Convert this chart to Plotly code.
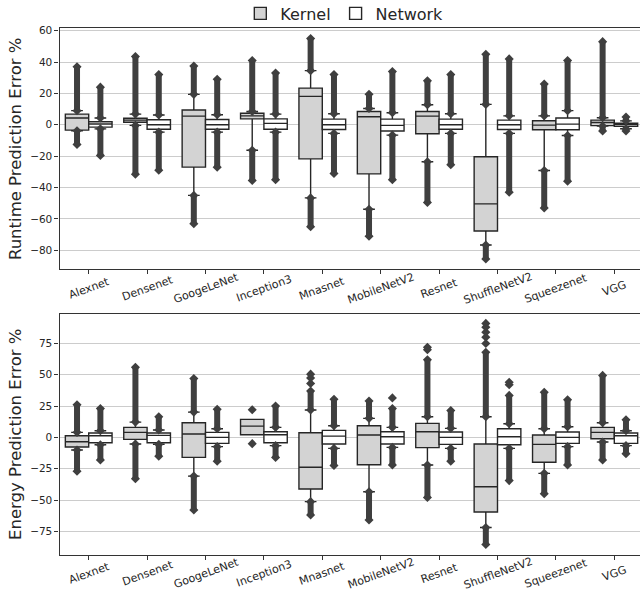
import plotly.graph_objects as go

models = ["Alexnet", "Densenet", "GoogeLeNet", "Inception3", "Mnasnet",
          "MobileNetV2", "Resnet", "ShuffleNetV2", "Squeezenet", "VGG"]

# ---- Runtime prediction error % ----
rt_k_q1  = [-3.4, 1.6, -27.0, 3.8, -21.7, -31.3, -5.7, -67.7, -3.2, -0.5]
rt_k_med = [4.3, 3.0, 5.5, 5.7, 18.1, 5.1, 5.5, -50.4, -0.2, 1.5]
rt_k_q3  = [6.8, 4.2, 9.4, 7.4, 23.4, 8.5, 8.5, -20.4, 2.6, 3.0]
rt_k_lo  = [-3.8, -0.4, -45.0, -16.2, -46.6, -53.8, -23.6, -76.6, -29.1, -0.8]
rt_k_hi  = [9.0, 6.8, 19.4, 8.5, 34.5, 10.4, 12.8, 13.0, 5.7, 4.5]
rt_k_min = [-12.5, -31.5, -63.0, -35.5, -65.0, -71.0, -49.5, -85.5, -53.0, -4.0]
rt_k_max = [37.0, 43.5, 37.5, 41.0, 55.0, 19.5, 28.0, 45.0, 26.0, 53.0]

rt_n_q1  = [-1.5, -2.8, -2.8, -2.8, -3.0, -4.0, -2.8, -3.0, -3.2, -1.0]
rt_n_med = [0.5, 0.0, 0.0, 0.9, 0.0, -0.4, 0.0, 0.0, 0.4, 0.2]
rt_n_q3  = [1.9, 3.2, 3.4, 3.8, 3.6, 3.6, 3.6, 3.0, 4.3, 1.0]
rt_n_lo  = [-2.6, -4.7, -4.7, -4.7, -5.5, -6.6, -5.5, -5.5, -6.8, -2.5]
rt_n_hi  = [4.3, 6.2, 6.4, 6.8, 7.0, 7.7, 7.0, 5.7, 9.0, 2.5]
rt_n_min = [-19.5, -29.0, -27.0, -35.0, -31.0, -35.0, -25.5, -43.0, -36.0, -4.0]
rt_n_max = [24.0, 32.0, 29.0, 33.0, 32.0, 34.0, 32.0, 42.0, 41.0, 5.0]

# ---- Energy prediction error % ----
en_k_q1  = [-7.7, -1.6, -16.0, 2.1, -41.2, -21.8, -8.2, -59.6, -19.9, -1.1]
en_k_med = [-3.5, 4.0, 2.7, 9.0, -23.9, 1.9, 4.5, -39.4, -5.6, 4.0]
en_k_q3  = [1.3, 8.0, 11.7, 14.4, 3.7, 9.3, 11.2, -5.3, 1.9, 8.0]
en_k_lo  = [-10.1, -5.3, -30.9, 2.1, -51.3, -43.4, -22.1, -72.0, -28.7, -3.7]
en_k_hi  = [4.0, 12.2, 20.2, 14.4, 21.8, 15.2, 16.5, 16.5, 6.9, 11.7]
en_k_min = [-27.0, -33.0, -58.0, None, -62.0, -66.0, -48.0, -85.5, -45.0, -18.0]
en_k_max = [26.0, 56.0, 47.0, None, 37.0, 29.0, 62.0, 68.0, 36.0, 49.5]

en_n_q1  = [-4.3, -4.3, -4.8, -4.3, -5.3, -5.3, -5.6, -5.9, -4.8, -4.8]
en_n_med = [1.3, 1.6, 0.0, 2.1, 1.0, 0.5, 0.0, 0.5, 0.0, 1.3]
en_n_q3  = [3.5, 3.5, 4.0, 4.5, 5.6, 4.5, 4.3, 6.9, 4.3, 3.5]
en_n_lo  = [-5.9, -5.6, -7.4, -6.6, -8.8, -8.0, -8.8, -8.8, -7.4, -6.6]
en_n_hi  = [5.3, 5.9, 6.9, 8.0, 9.3, 8.0, 7.2, 10.9, 8.5, 5.3]
en_n_min = [-18.0, -15.0, -19.0, -16.0, -22.5, -22.0, -19.0, -34.5, -22.0, -13.0]
en_n_max = [23.0, 16.5, 22.5, 25.0, 30.5, 23.0, 21.5, 33.5, 30.0, 14.0]

# isolated outliers: (model index, value)
en_k_iso = [(3, 22.0), (3, -5.0), (4, 43.0), (4, 47.5), (4, 50.5),
            (6, 70.0), (6, 72.0), (7, 75.0), (7, 80.0), (7, 84.0),
            (7, 88.0), (7, 91.0)]
en_n_iso = [(5, 31.5), (7, 42.0), (7, 44.0)]
rt_k_iso = []
rt_n_iso = []

series = ["Kernel", "Network"]
fills = ["#d3d3d3", "#ffffff"]
offsets = [-0.2, 0.2]
OUT = "#3f3f3f"

panels = [
    dict(row="1", k=(rt_k_q1, rt_k_med, rt_k_q3, rt_k_lo, rt_k_hi, rt_k_min, rt_k_max, rt_k_iso),
         n=(rt_n_q1, rt_n_med, rt_n_q3, rt_n_lo, rt_n_hi, rt_n_min, rt_n_max, rt_n_iso)),
    dict(row="2", k=(en_k_q1, en_k_med, en_k_q3, en_k_lo, en_k_hi, en_k_min, en_k_max, en_k_iso),
         n=(en_n_q1, en_n_med, en_n_q3, en_n_lo, en_n_hi, en_n_min, en_n_max, en_n_iso)),
]

fig = go.Figure()

# outlier columns first (drawn underneath boxes)
for p in panels:
    ax = "" if p["row"] == "1" else "2"
    for si, key in enumerate(["k", "n"]):
        q1, med, q3, lo, hi, mn, mx, iso = p[key]
        xs, ys = [], []
        for i in range(len(models)):
            x = i + offsets[si]
            if mx[i] is not None:
                xs += [x, x, None]
                ys += [hi[i], mx[i], None]
            if mn[i] is not None:
                xs += [x, x, None]
                ys += [lo[i], mn[i], None]
        fig.add_trace(go.Scatter(
            x=xs, y=ys, mode="lines+markers", xaxis="x" + ax, yaxis="y" + ax,
            line=dict(color=OUT, width=6), marker=dict(symbol="diamond", size=7, color=OUT),
            showlegend=False, hoverinfo="skip"))
        if iso:
            fig.add_trace(go.Scatter(
                x=[m + offsets[si] for m, v in iso], y=[v for m, v in iso],
                mode="markers", xaxis="x" + ax, yaxis="y" + ax,
                marker=dict(symbol="diamond", size=7, color=OUT),
                showlegend=False, hoverinfo="skip"))

for p in panels:
    ax = "" if p["row"] == "1" else "2"
    for si, key in enumerate(["k", "n"]):
        q1, med, q3, lo, hi, mn, mx, iso = p[key]
        fig.add_trace(go.Box(
            x=[i + offsets[si] for i in range(len(models))],
            q1=q1, median=med, q3=q3, lowerfence=lo, upperfence=hi,
            width=0.4, whiskerwidth=0.5, boxpoints=False,
            fillcolor=fills[si], line=dict(color="#262626", width=1.4),
            name=series[si], legendgroup=series[si],
            showlegend=(p["row"] == "1"), xaxis="x" + ax, yaxis="y" + ax,
            hoverinfo="skip"))

W, H = 640, 594
x0 = 59.5 / W
top_dom = [1 - 269.3 / H, 1 - 28.3 / H]
bot_dom = [1 - 555 / H, 1 - 313.5 / H]

axis_common = dict(
    showline=True, linecolor="#333333", linewidth=1.2, ticks="outside",
    ticklen=4, tickcolor="#333333", tickfont=dict(family="DejaVu Sans", size=10.5, color="#262626"),
    zeroline=False,
)

fig.update_layout(
    width=W, height=H, margin=dict(l=0, r=0, t=0, b=0, autoexpand=False),
    paper_bgcolor="white", plot_bgcolor="white",
    boxmode="overlay",
    font=dict(family="DejaVu Sans", color="#262626"),
    xaxis=dict(domain=[x0, 1], anchor="y", range=[-0.5, 9.44],
               tickvals=list(range(len(models))), showticklabels=False,
               showgrid=False, mirror=True, **axis_common),
    yaxis=dict(domain=top_dom, anchor="x", range=[-92.1, 61.5],
               tickvals=[60, 40, 20, 0, -20, -40, -60, -80],
               showgrid=True, gridcolor="#cccccc", gridwidth=1,
               title=dict(text="Runtime Prediction Error %", font=dict(size=16.5, color="#262626"),
                          standoff=4),
               **axis_common),
    xaxis2=dict(domain=[x0, 1], anchor="y2", range=[-0.5, 9.44],
                tickvals=list(range(len(models))), showticklabels=False,
                showgrid=False, mirror=True, **axis_common),
    yaxis2=dict(domain=bot_dom, anchor="x2", range=[-93.9, 98.9],
                tickvals=[75, 50, 25, 0, -25, -50, -75],
                showgrid=True, gridcolor="#cccccc", gridwidth=1,
                title=dict(text="Energy Prediction Error %", font=dict(size=16.5, color="#262626"),
                           standoff=4),
                **axis_common),
    legend=dict(orientation="h", x=0.538, xanchor="center", y=1.006, yanchor="top",
                font=dict(size=16, color="#262626"), bgcolor="rgba(0,0,0,0)",
                itemwidth=30, tracegroupgap=0),
)

# rotated, centred category labels
for xa, ypix in [("x", 288.5), ("x2", 573.0)]:
    for i, m in enumerate(models):
        fig.add_annotation(x=i, y=1 - ypix / H, xref=xa, yref="paper", text=m,
                           showarrow=False, textangle=-20,
                           font=dict(family="DejaVu Sans", size=11, color="#262626"),
                           xanchor="center", yanchor="middle")

fig.write_html("out.html", config={"displayModeBar": False},
               post_script="document.body.style.margin='0px';")
